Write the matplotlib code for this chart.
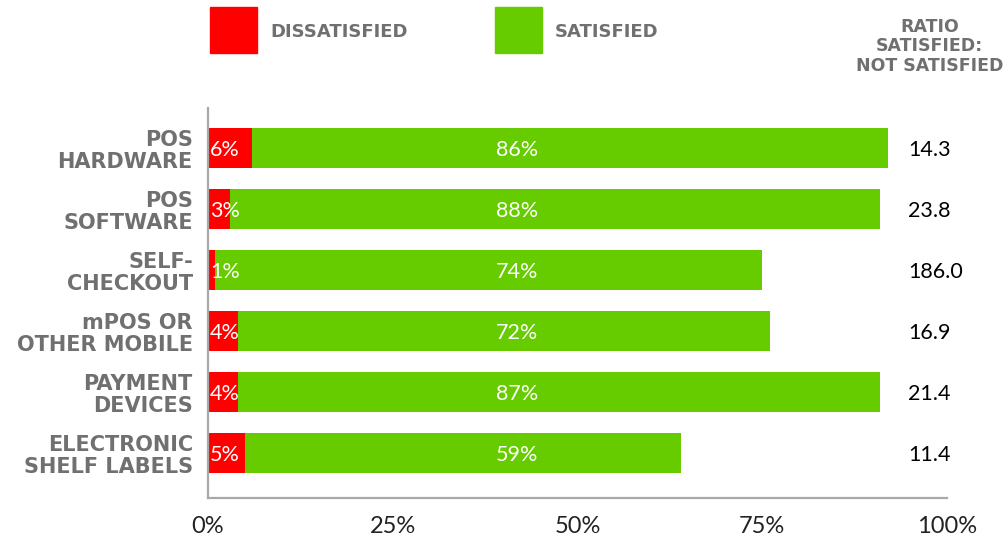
import matplotlib.pyplot as plt
from matplotlib.patches import Rectangle

# satisfaction with store technology, share of respondents (%)
categories = ['POS\nHARDWARE', 'POS\nSOFTWARE', 'SELF-\nCHECKOUT',
              'mPOS OR\nOTHER MOBILE', 'PAYMENT\nDEVICES', 'ELECTRONIC\nSHELF LABELS']
dissatisfied = [6, 3, 1, 4, 4, 5]
satisfied = [86, 88, 74, 72, 87, 59]
ratio = [14.3, 23.8, 186.0, 16.9, 21.4, 11.4]
xticks = [0, 25, 50, 75, 100]

RED = '#ff0000'
GREEN = '#66cc00'
GREY = '#707070'
LABEL_FONT = dict(family='DejaVu Sans', weight='bold', color=GREY)

fig = plt.figure(figsize=(10.04, 5.45), dpi=100)
ax = fig.add_axes([0.2072, 0.0862, 0.7360, 0.7156])

y = list(range(len(categories)))
ax.barh(y, dissatisfied, height=0.66, color=RED)
ax.barh(y, satisfied, left=dissatisfied, height=0.66, color=GREEN)

for i in y:
    ax.text(0.3, i, f'{dissatisfied[i]}%', ha='left', va='center_baseline',
            color='white', fontsize=15.5, family='Lato')
    ax.text(41.8, i, f'{satisfied[i]}%', ha='center', va='center_baseline',
            color='white', fontsize=15.5, family='Lato')
    ax.text(94.7, i, f'{ratio[i]:.1f}', ha='left', va='center_baseline',
            color='black', fontsize=15.5, family='Lato')

ax.set_xlim(0, 100)
ax.set_ylim(5.74, -0.66)
ax.set_yticks(y)
ax.set_yticklabels(categories, fontsize=15, linespacing=1.12, **LABEL_FONT)
ax.tick_params(axis='y', length=0, pad=11)
ax.set_xticks(xticks)
ax.set_xticklabels([f'{t}%' for t in xticks], fontsize=17, family='Lato', color='#222222')
ax.tick_params(axis='x', length=0, pad=13)

for s in ['top', 'right']:
    ax.spines[s].set_visible(False)
for s in ['left', 'bottom']:
    ax.spines[s].set_color('#a8a8a8')
    ax.spines[s].set_linewidth(1.6)

# legend squares and header
fig.add_artist(Rectangle((0.209, 0.9028), 0.0468, 0.0844, color=RED, transform=fig.transFigure))
fig.add_artist(Rectangle((0.493, 0.9028), 0.0468, 0.0844, color=GREEN, transform=fig.transFigure))
fig.text(0.269, 0.941, 'DISSATISFIED', ha='left', va='center', fontsize=13, **LABEL_FONT)
fig.text(0.553, 0.941, 'SATISFIED', ha='left', va='center', fontsize=13, **LABEL_FONT)
fig.text(0.926, 0.915, 'RATIO\nSATISFIED:\nNOT SATISFIED', ha='center', va='center',
         fontsize=12.5, linespacing=1.12, **LABEL_FONT)

fig.savefig('out.png', dpi=100)
